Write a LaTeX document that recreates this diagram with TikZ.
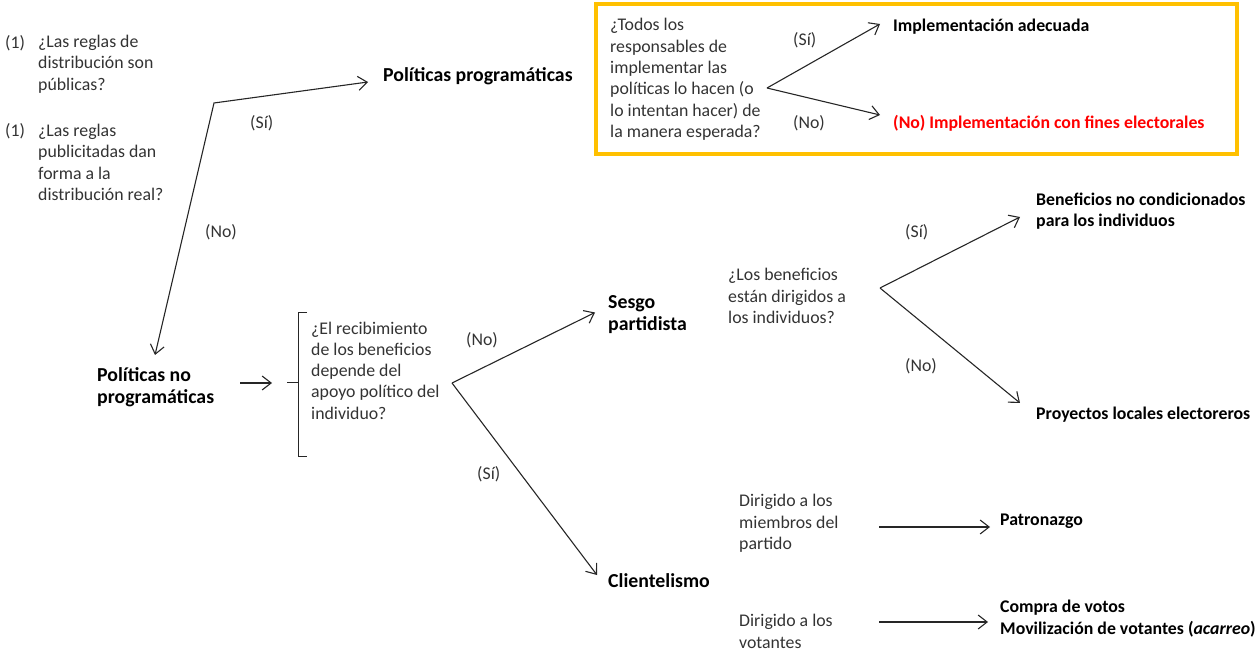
\documentclass[tikz,border=0pt]{standalone}
\usepackage{fontspec}
\setmainfont{Carlito}
\usetikzlibrary{arrows.meta,calc}
\definecolor{boxyellow}{HTML}{FFC000}
\definecolor{txtgray}{HTML}{333333}
\definecolor{redtxt}{HTML}{FF0000}
\begin{document}
\begin{tikzpicture}[x=1pt,y=-1pt,
  txt/.style={anchor=west,inner sep=0pt,align=left,font=\fontsize{17.8}{21.3}\selectfont,text=txtgray},
  bold/.style={anchor=west,inner sep=0pt,align=left,font=\fontsize{17.8}{21.3}\selectfont\bfseries,text=black},
  head/.style={anchor=west,inner sep=0pt,align=left,font=\fontsize{19.8}{22.5}\selectfont\bfseries,text=black},
  conn/.style={line width=1.1pt,draw=black!85,-{Straight Barb[length=9pt,width=14pt,line width=1.1pt]}},
  twoway/.style={line width=1.1pt,draw=black!85,{Straight Barb[length=9pt,width=14pt,line width=1.1pt]}-{Straight Barb[length=9pt,width=14pt,line width=1.1pt]}}]
\useasboundingbox (0,0) rectangle (1259,652);

% left questions
\node[txt] (n1) at (5,43) {(1)};
\node[txt] (q1) at (38,64) {¿Las reglas de\\distribución son\\públicas?};
\node[txt] (n2) at (5,131) {(1)};
\node[txt] (q2) at (38,162.5) {¿Las reglas\\publicitadas dan\\forma a la\\distribución real?};

% programmatic vs not
\node[head] (pp) at (383,76) {Políticas programáticas};
\node[head] (pnp) at (97,387) {Políticas no\\programáticas};
\coordinate (bend) at (214,103);
\coordinate (pnptip) at (155,355);
\coordinate (pptip) at (368,82);
\draw[twoway] (pnptip) -- (bend) -- (pptip);
\node[txt] (lsi1) at (250,123) {(Sí)};
\node[txt] (lno1) at (205,232) {(No)};

% yellow box
\draw[draw=boxyellow,line width=4pt] (596,4) rectangle (1237,154);
\node[txt] (q3) at (610,79.5) {¿Todos los\\responsables de\\implementar las\\políticas lo hacen (o\\lo intentan hacer) de\\la manera esperada?};
\coordinate (b3) at (767,88);
\node[bold] (ia) at (893,27) {Implementación adecuada};
\node[bold,text=redtxt] (ie) at (893,123) {(No) Implementación con fines electorales};
\draw[conn] (b3) -- ($(ia.west)+(-13,-3)$);
\draw[conn] (b3) -- ($(ie.west)+(-13,-8)$);
\node[txt] (lsi3) at (793,40) {(Sí)};
\node[txt] (lno3) at (793,123) {(No)};

% non-programmatic branch
\coordinate (a1s) at (240,383);
\coordinate (a1e) at (272,383);
\draw[conn] (a1s) -- (a1e);
\draw[line width=1pt,draw=black!85] (307,313) -- (298,313) -- (298,456) -- (307,456);
\draw[line width=1pt,draw=black!85] (287,383) -- (298,383);
\node[txt] (q4) at (311,370.5) {¿El recibimiento\\de los beneficios\\depende del\\apoyo político del\\individuo?};
\coordinate (b4) at (452,383);
\node[head] (sp) at (608,314.5) {Sesgo\\partidista};
\node[head] (cl) at (608,581) {Clientelismo};
\draw[conn] (b4) -- ($(sp.west)+(-13,-2)$);
\draw[conn] (b4) -- ($(cl.west)+(-11,-6)$);
\node[txt] (lno4) at (466,340) {(No)};
\node[txt] (lsi4) at (477,474) {(Sí)};

% partisan bias branch
\node[txt] (q5) at (728,296) {¿Los beneficios\\están dirigidos a\\los individuos?};
\coordinate (b5) at (880,288);
\node[bold] (bn) at (1036,211) {Beneficios no condicionados\\para los individuos};
\node[bold] (pl) at (1036,415) {Proyectos locales electoreros};
\draw[conn] (b5) -- ($(bn.west)+(-16,6)$);
\draw[conn] (b5) -- ($(pl.west)+(-16,-12)$);
\node[txt] (lsi5) at (905,232) {(Sí)};
\node[txt] (lno5) at (905,366) {(No)};

% clientelism branch
\node[txt] (d1) at (739,523.5) {Dirigido a los\\miembros del\\partido};
\node[bold] (pa) at (1000,521) {Patronazgo};
\coordinate (a2s) at (879,527);
\coordinate (a2e) at (990,527);
\draw[conn] (a2s) -- (a2e);
\node[txt] (d2) at (739,631.5) {Dirigido a los\\votantes};
\node[bold] (cv) at (1000,618.5) {Compra de votos\\Movilización de votantes (\textit{acarreo})};
\coordinate (a3s) at (879,622);
\coordinate (a3e) at (988,622);
\draw[conn] (a3s) -- (a3e);
\end{tikzpicture}
\end{document}
